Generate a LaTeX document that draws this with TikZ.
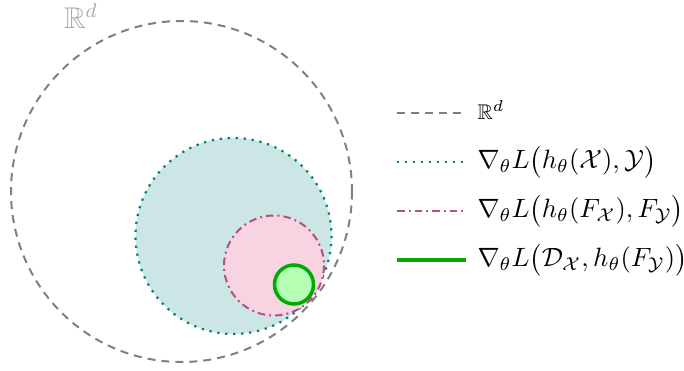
\documentclass[tikz,border=0pt]{standalone}
\usepackage{amssymb}
\usepackage{amsmath}
\usepackage{xcolor}

\definecolor{spacegray}{RGB}{128,128,128}
\definecolor{tealline}{RGB}{0,128,128}
\definecolor{tealfill}{RGB}{204,230,230}
\definecolor{pinkline}{RGB}{180,80,130}
\definecolor{pinkfill}{RGB}{248,212,227}
\definecolor{greenline}{RGB}{0,170,0}
\definecolor{greenfill}{RGB}{180,255,180}

\tikzset{
  spaceline/.style={draw=spacegray, dash pattern=on 3.2pt off 2.4pt, line width=0.8pt},
  fullset/.style={draw=tealline, dash pattern=on 0.9pt off 2.3pt, line width=0.9pt},
  filterset/.style={draw=pinkline, dash pattern=on 3pt off 1.6pt on 0.8pt off 1.6pt, line width=0.8pt},
  distillset/.style={draw=greenline, line width=1.4pt},
  legendtext/.style={anchor=west, inner sep=0pt, scale=1.06}
}

\begin{document}
\begin{tikzpicture}[x=0.4pt, y=-0.4pt]
  \useasboundingbox (0,0) rectangle (684,371);

  % nested regions
  \draw[spaceline] (181.5,191.5) circle (170.5);
  \fill[tealfill] (233.5,236) circle (98);
  \draw[fullset] (233.5,236) circle (98);
  \draw[filterset, fill=pinkfill] (274,265.5) circle (50);
  \draw[distillset, fill=greenfill] (294,284.5) circle (19.5);

  \node[text=spacegray!65, font=\large] (space) at (81,16) {$\mathbb{R}^d$};

  % legend
  \coordinate (l1a) at (397,113); \coordinate (l1b) at (466,113);
  \coordinate (l2a) at (397,162); \coordinate (l2b) at (466,162);
  \coordinate (l3a) at (397,211); \coordinate (l3b) at (466,211);
  \coordinate (l4a) at (397,260); \coordinate (l4b) at (466,260);

  \draw[spaceline] (l1a) -- (l1b);
  \draw[fullset] (l2a) -- (l2b);
  \draw[filterset] (l3a) -- (l3b);
  \draw[distillset] (l4a) -- (l4b);

  \node[legendtext, font=\footnotesize] (t1) at (477,110) {$\mathbb{R}^d$};
  \node[legendtext] (t2) at (477,162) {$\nabla_\theta L\big(h_\theta(\mathcal{X}),\mathcal{Y}\big)$};
  \node[legendtext] (t3) at (477,211) {$\nabla_\theta L\big(h_\theta(F_{\mathcal{X}}),F_{\mathcal{Y}}\big)$};
  \node[legendtext] (t4) at (477,260) {$\nabla_\theta L\big(\mathcal{D}_{\mathcal{X}},h_\theta(F_{\mathcal{Y}})\big)$};
\end{tikzpicture}
\end{document}
